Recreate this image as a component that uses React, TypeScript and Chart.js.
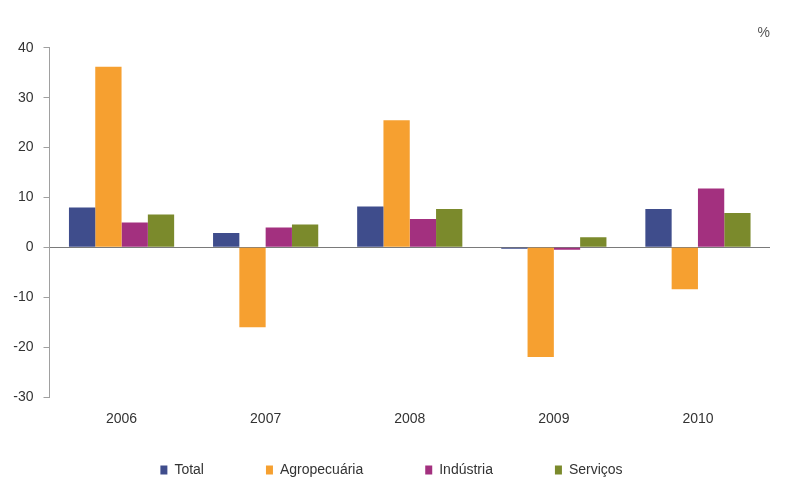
import React, { useEffect, useRef } from "react";
import { Chart, registerables } from "chart.js";

Chart.register(...registerables);

const categories = ["2006", "2007", "2008", "2009", "2010"];
const seriesNames = ["Total", "Agropecuária", "Indústria", "Serviços"];
const totalValues = [8.0, 2.9, 8.2, -0.3, 7.7];
const agroValues = [36.2, -16.0, 25.5, -22.0, -8.4];
const industriaValues = [5.0, 4.0, 5.7, -0.5, 11.8];
const servicosValues = [6.6, 4.6, 7.7, 2.0, 6.9];
const seriesColors = ["#3f4d8c", "#f6a030", "#a3307f", "#7b8a2c"];
const yTicks = [-30, -20, -10, 0, 10, 20, 30, 40];
const unitLabel = "%";

const FONT = 'Arial, "Liberation Sans", sans-serif';

export default function App() {
  const canvasRef = useRef<HTMLCanvasElement | null>(null);

  useEffect(() => {
    const canvas = canvasRef.current;
    if (!canvas) return;
    const values = [totalValues, agroValues, industriaValues, servicosValues];
    const chart = new Chart(canvas, {
      type: "bar",
      data: {
        labels: categories,
        datasets: seriesNames.map((name, i) => ({
          label: name,
          data: values[i],
          backgroundColor: seriesColors[i],
          borderWidth: 0,
          categoryPercentage: 0.73,
          barPercentage: 1.0,
        })),
      },
      options: {
        animation: false,
        responsive: false,
        maintainAspectRatio: false,
        layout: { padding: { left: 13, right: 15, top: 0, bottom: -9 } },
        plugins: {
          tooltip: { enabled: false },
          title: {
            display: true,
            text: unitLabel,
            align: "end",
            color: "#555555",
            font: { family: FONT, size: 14, weight: "normal" },
            padding: { top: 25, bottom: 6 },
          },
          legend: {
            position: "bottom",
            labels: {
              boxWidth: 7,
              boxHeight: 9,
              padding: 62,
              color: "#333333",
              font: { family: FONT, size: 14 },
            },
          },
        },
        scales: {
          x: {
            grid: { display: false, drawTicks: false },
            border: { display: false },
            ticks: {
              color: "#333333",
              mirror: true,
              padding: -31,
              font: { family: FONT, size: 14 },
            },
            afterFit: (scale: any) => {
              scale.height = 4;
            },
          },
          y: {
            min: yTicks[0],
            max: yTicks[yTicks.length - 1],
            afterBuildTicks: (scale: any) => {
              scale.ticks = yTicks.map((v) => ({ value: v }));
            },
            afterFit: (scale: any) => {
              scale.width = 36.5;
            },
            grid: {
              display: true,
              drawTicks: true,
              tickLength: 6,
              tickColor: "#a0a0a0",
              color: (ctx: any) =>
                ctx.tick && ctx.tick.value === 0 ? "#7a7a7a" : "rgba(0,0,0,0)",
            },
            border: { display: true, color: "#a0a0a0", width: 1 },
            ticks: {
              color: "#333333",
              padding: 10,
              font: { family: FONT, size: 14 },
            },
          },
        },
      },
    });
    return () => chart.destroy();
  }, []);

  return (
    <div
      style={{
        position: "fixed",
        left: 0,
        top: 0,
        width: "785px",
        height: "478px",
        background: "#ffffff",
      }}
    >
      <canvas ref={canvasRef} width={785} height={478} style={{ display: "block" }} />
    </div>
  );
}
